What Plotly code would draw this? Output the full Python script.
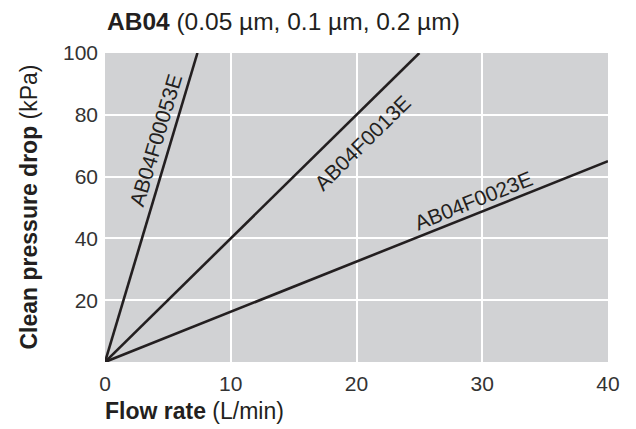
import math
import plotly.graph_objects as go

# ---- data ----
series_names = ["AB04F00053E", "AB04F0013E", "AB04F0023E"]
flow_lpm = [[0, 7.35], [0, 25], [0, 40]]
pressure_kpa = [[0, 100], [0, 100], [0, 65]]
x_ticks = [0, 10, 20, 30, 40]
y_ticks = [20, 40, 60, 80, 100]

# label centers (data coords) for in-plot line labels
label_x = [4.0, 20.5, 29.3]
label_y = [71.8, 71.0, 52.2]

FONT = "Liberation Sans, Arial, Helvetica, sans-serif"
INK = "#231f20"

W, H = 636, 429
ML, MR, MT, MB = 105, 28, 53, 67
pw, ph = W - ML - MR, H - MT - MB
xr, yr = [0, 40], [0, 100]
sx = pw / (xr[1] - xr[0])
sy = ph / (yr[1] - yr[0])

fig = go.Figure()
for name, xs, ys in zip(series_names, flow_lpm, pressure_kpa):
    fig.add_trace(go.Scatter(x=xs, y=ys, mode="lines", name=name,
                             line=dict(color=INK, width=2.6),
                             showlegend=False, hoverinfo="skip"))

for name, xs, ys, lx, ly in zip(series_names, flow_lpm, pressure_kpa, label_x, label_y):
    slope_px = (ys[1] - ys[0]) / (xs[1] - xs[0]) * sy / sx
    ang = math.degrees(math.atan(slope_px))
    fig.add_annotation(x=lx, y=ly, xref="x", yref="y", text=name,
                       showarrow=False, textangle=-ang,
                       font=dict(family=FONT, size=21, color=INK),
                       xanchor="center", yanchor="middle")

# title
fig.add_annotation(x=0, y=1, xref="paper", yref="paper", xanchor="left", yanchor="middle",
                   yshift=32, showarrow=False,
                   text="<b>AB04</b> (0.05 µm, 0.1 µm, 0.2 µm)",
                   font=dict(family=FONT, size=24.5, color=INK))
# x title
fig.add_annotation(x=0, y=0, xref="paper", yref="paper", xanchor="left", yanchor="middle",
                   yshift=-49, xshift=-2, showarrow=False,
                   text="<b>Flow rate</b> (L/min)",
                   font=dict(family=FONT, size=23, color=INK))
# y title
fig.add_annotation(x=0, y=0.5, xref="paper", yref="paper", xanchor="center", yanchor="middle",
                   xshift=-77, showarrow=False, textangle=-90,
                   text="<b>Clean pressure drop</b> (kPa)",
                   font=dict(family=FONT, size=23, color=INK))

fig.update_xaxes(range=xr, tickvals=x_ticks, ticktext=[str(v) for v in x_ticks],
                 showgrid=True, gridcolor="white", gridwidth=2, zeroline=False,
                 showline=False, ticks="", ticklabelstandoff=7,
                 tickfont=dict(family=FONT, size=21, color="#333333"))
fig.update_yaxes(range=yr, tickvals=y_ticks, ticktext=[str(v) for v in y_ticks],
                 showgrid=True, gridcolor="white", gridwidth=2, zeroline=False,
                 showline=False, ticks="", ticklabelstandoff=6,
                 tickfont=dict(family=FONT, size=21, color="#333333"))

fig.update_layout(width=W, height=H, margin=dict(l=ML, r=MR, t=MT, b=MB),
                  plot_bgcolor="#d1d2d4", paper_bgcolor="white")

fig.write_html("out.html", config={"displayModeBar": False},
               post_script="document.body.style.margin='0';document.body.style.overflow='hidden';")
